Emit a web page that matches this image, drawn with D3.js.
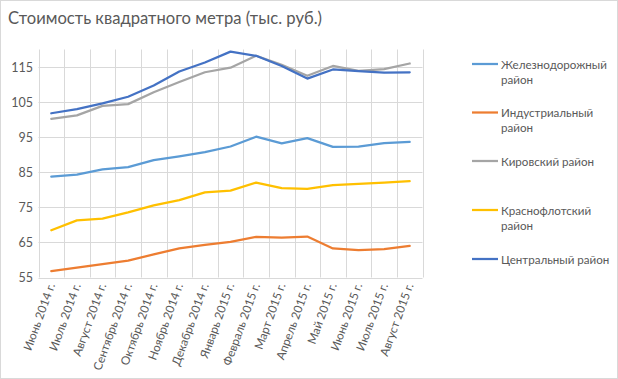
<!DOCTYPE html>
<html><head><meta charset="utf-8">
<script src="https://cdn.jsdelivr.net/npm/d3@7"></script>
<style>body{margin:0;background:#fff}svg{display:block}text{font-family:Lato,"Open Sans",sans-serif;fill:#595959}</style>
</head><body><svg id="c" width="618" height="379"></svg>
<script>
const title = "Стоимость квадратного метра (тыс. руб.)";
const categories = ["Июнь 2014 г.","Июль 2014 г.","Август 2014 г.","Сентябрь 2014 г.","Октябрь 2014 г.","Ноябрь 2014 г.","Декабрь 2014 г.","Январь 2015 г.","Февраль 2015 г.","Март 2015 г.","Апрель 2015 г.","Май 2015 г.","Июнь 2015 г.","Июль 2015 г.","Август 2015 г."];
const seriesNames = [["Железнодорожный","район"],["Индустриальный","район"],["Кировский район"],["Краснофлотский","район"],["Центральный район"]];
const zhelez = [83.8,84.4,85.9,86.5,88.5,89.6,90.8,92.4,95.2,93.3,94.8,92.3,92.4,93.4,93.7];
const indust = [56.8,57.8,58.8,59.8,61.6,63.3,64.3,65.2,66.6,66.4,66.7,63.3,62.8,63.1,64.0];
const kirov = [100.3,101.3,104.0,104.5,107.9,110.8,113.6,114.9,118.3,115.7,112.6,115.4,114.0,114.5,116.1];
const krasno = [68.5,71.3,71.8,73.6,75.6,77.1,79.3,79.8,82.1,80.5,80.3,81.4,81.7,82.1,82.5];
const central = [101.9,103.1,104.7,106.6,109.8,113.8,116.4,119.5,118.3,115.4,111.8,114.4,113.9,113.5,113.6];
const yTicks = [55,65,75,85,95,105,115];
const colors = ["#5B9BD5","#ED7D31","#A5A5A5","#FFC000","#4472C4"];
const series = [zhelez, indust, kirov, krasno, central];

const svg = d3.select("#c");
svg.append("rect").attr("x",0.5).attr("y",0.5).attr("width",617).attr("height",378).attr("fill","#fff").attr("stroke","#D9D9D9");
svg.append("text").attr("x",8).attr("y",24).attr("font-size",16.6).text(title);

const L=38.5, R=422.5, T=49.5, B=277.5;
const x = d3.scaleBand().domain(categories).range([L,R]);
const y = d3.scaleLinear().domain([55,120.1]).range([B,T]);
const g = svg.append("g");
const vx = categories.map(c=>x(c)).concat([R]);
g.selectAll(".vg").data(vx).enter().append("line").attr("x1",d=>Math.round(d)+0.5).attr("x2",d=>Math.round(d)+0.5).attr("y1",T).attr("y2",B).attr("stroke","#D9D9D9").attr("stroke-width",1);
g.selectAll(".hg").data(yTicks).enter().append("line").attr("x1",L).attr("x2",R).attr("y1",d=>Math.round(y(d))+0.5).attr("y2",d=>Math.round(y(d))+0.5).attr("stroke","#D9D9D9");
g.selectAll(".yt").data(yTicks).enter().append("text").attr("x",33).attr("y",d=>y(d)+4.5).attr("text-anchor","end").attr("font-size",12.5).text(d=>d);
g.selectAll(".xt").data(categories).enter().append("text")
 .attr("transform",d=>`translate(${x(d)+x.bandwidth()/2+4},285) rotate(-70)`)
 .attr("text-anchor","end").attr("font-size",11.8).text(d=>d);

const line = d3.line().x((d,i)=>x(categories[i])+x.bandwidth()/2).y(d=>y(d));
series.forEach((s,k)=>{
  svg.append("path").attr("d",line(s)).attr("fill","none").attr("stroke",colors[k]).attr("stroke-width",2.25).attr("stroke-linejoin","round").attr("stroke-linecap","round");
});
const ly=[64,112.5,161,210,259];
seriesNames.forEach((n,k)=>{
  svg.append("line").attr("x1",472).attr("x2",498).attr("y1",ly[k]).attr("y2",ly[k]).attr("stroke",colors[k]).attr("stroke-width",2.25);
  n.forEach((t,j)=>svg.append("text").attr("x",501).attr("y",ly[k]+4.5+j*15.3).attr("font-size",11.6).text(t));
});
</script></body></html>
